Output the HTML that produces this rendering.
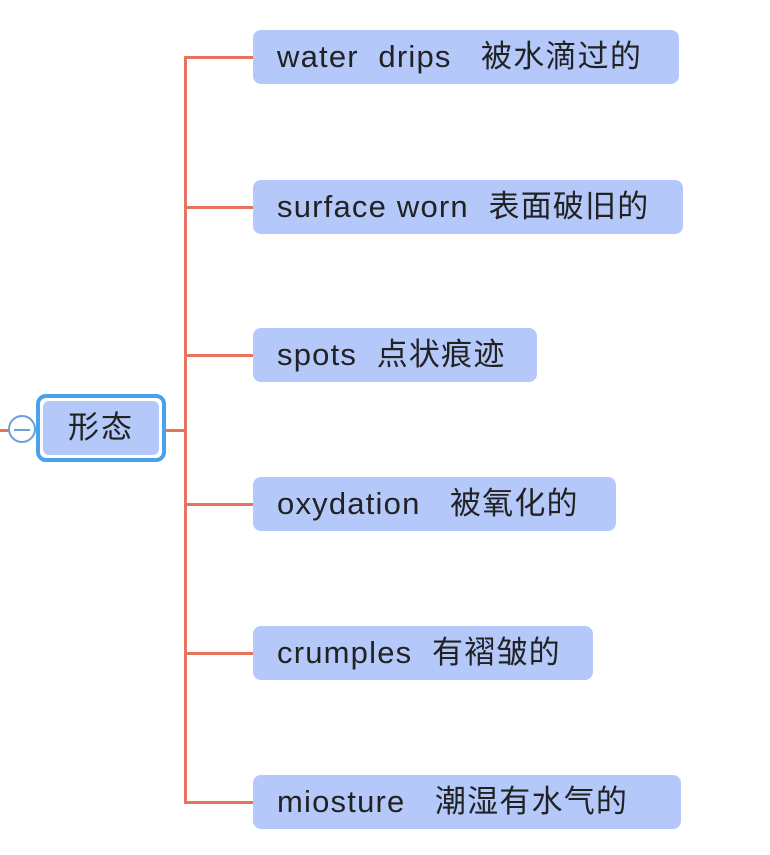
<!DOCTYPE html>
<html><head><meta charset="utf-8"><style>
body{margin:0;width:770px;height:855px;background:#fff;position:relative;overflow:hidden;font-family:"Liberation Sans","Noto Sans CJK SC",sans-serif;}
.b{position:absolute;left:253px;height:54px;background:#b4c9f9;border-radius:8px;color:#222;font-size:31px;letter-spacing:1.2px;line-height:54px;padding-left:24px;box-sizing:border-box;white-space:pre;}
.h{position:absolute;height:3px;background:#e8735f;left:185px;width:70px;}
</style></head><body>
<div style="position:absolute;left:184px;top:56px;width:3px;height:748px;background:#e8735f"></div>
<div class="h" style="top:56px"></div>
<div class="h" style="top:206px"></div>
<div class="h" style="top:354px"></div>
<div class="h" style="top:503px"></div>
<div class="h" style="top:652px"></div>
<div class="h" style="top:801px"></div>
<div style="position:absolute;left:160px;top:429px;width:26px;height:3px;background:#e8735f"></div>
<div style="position:absolute;left:0;top:429px;width:10px;height:3px;background:#e8735f"></div>
<div class="b" style="top:30px;width:426px">water  drips   被水滴过的</div>
<div class="b" style="top:180px;width:430px">surface worn  表面破旧的</div>
<div class="b" style="top:328px;width:284px">spots  点状痕迹</div>
<div class="b" style="top:477px;width:363px">oxydation   被氧化的</div>
<div class="b" style="top:626px;width:340px">crumples  有褶皱的</div>
<div class="b" style="top:775px;width:428px">miosture   潮湿有水气的</div>
<div style="position:absolute;left:36px;top:394px;width:130px;height:68px;box-sizing:border-box;border:4px solid #4aa3ea;border-radius:10px;background:#fff;padding:3px">
<div style="width:100%;height:100%;background:#b4c9f9;border-radius:6px;font-size:31px;line-height:54px;text-align:center;color:#222;letter-spacing:2px">形态</div></div>
<div style="position:absolute;left:8px;top:415px;width:28px;height:28px;box-sizing:border-box;border:2px solid #6aa0d8;border-radius:50%;background:#fff"><div style="position:absolute;left:4px;top:12px;width:16px;height:1.5px;background:#6aa0d8"></div></div>
</body></html>
